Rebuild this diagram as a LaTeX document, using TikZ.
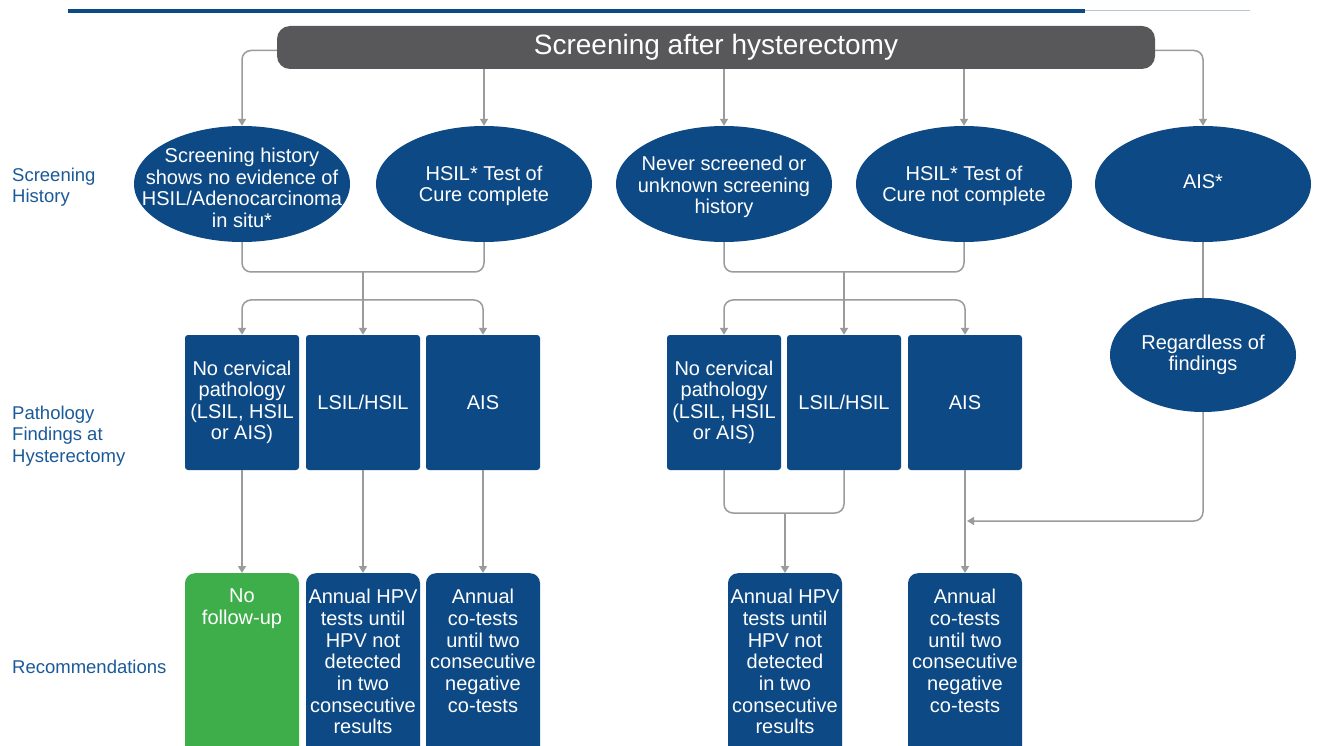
\documentclass[tikz,border=0pt]{standalone}
\usepackage{fontspec}
\setmainfont{Liberation Sans}
\usetikzlibrary{shapes.geometric,arrows.meta}
\definecolor{navy}{HTML}{0D4984}
\definecolor{leaf}{HTML}{3EAE4A}
\definecolor{bargray}{HTML}{58585A}
\definecolor{lblue}{HTML}{1B5A98}
\definecolor{lgray}{HTML}{9B9B9B}
\definecolor{rulegray}{HTML}{B8C4D0}
\begin{document}
\begin{tikzpicture}[x=1pt,y=-1pt,
  ellA/.style={ellipse,fill=navy,minimum width=216pt,minimum height=116pt,inner sep=0pt},
  etext/.style={text=white,align=center,font=\fontsize{20}{21.5}\selectfont,inner sep=0pt},
  pbox/.style={fill=navy,rounded corners=3pt,minimum width=114pt,minimum height=135pt,inner sep=0pt,text=white,align=center,font=\fontsize{20}{21.5}\selectfont},
  rbox/.style={fill=navy,rounded corners=10pt,minimum width=114pt,minimum height=230pt,inner sep=0pt,anchor=north},
  rtext/.style={text=white,align=center,font=\fontsize{20}{21.7}\selectfont,inner sep=0pt,anchor=north},
  lbl/.style={text=lblue,align=left,anchor=west,font=\fontsize{18.5}{21.5}\selectfont,inner sep=0pt},
  conn/.style={draw=lgray,line width=1.5pt,rounded corners=9pt},
  arr/.style={conn,-{Triangle[width=8pt,length=7pt]}}]
\clip (0,0) rectangle (1318,746);
\fill[white] (0,0) rectangle (1318,746);
% top rule
\draw[navy,line width=4pt] (68,11) -- (1085,11);
\draw[rulegray,line width=1pt] (1085,11) -- (1250,11);
% title
\node[fill=bargray,rounded corners=13pt,minimum width=878pt,minimum height=43pt,inner sep=0pt,text=white,font=\fontsize{28}{32}\selectfont] (title) at (716,47.5) {Screening after hysterectomy};
% row labels
\node[lbl] (l1) at (12,187) {Screening\\History};
\node[lbl] (l2) at (12,436) {Pathology\\Findings at\\Hysterectomy};
\node[lbl] (l3) at (12,667) {Recommendations};
% ellipses
\node[ellA] (e1) at (242,184) {};
\node[ellA] (e2) at (484,184) {};
\node[ellA] (e3) at (724,184) {};
\node[ellA] (e4) at (964,184) {};
\node[ellA] (e5) at (1203,184) {};
\node[ellA,minimum width=186pt,minimum height=114pt] (e6) at (1203,355) {};
\node[etext] (e1t) at (242,188) {Screening history\\shows no evidence of\\HSIL/Adenocarcinoma\\in situ*};
\node[etext] (e2t) at (484,186) {HSIL* Test of\\Cure complete};
\node[etext] (e3t) at (724,187) {Never screened or\\unknown screening\\history};
\node[etext] (e4t) at (964,186) {HSIL* Test of\\Cure not complete};
\node[etext] (e5t) at (1203,182) {AIS*};
\node[etext] (e6t) at (1203,355) {Regardless of\\findings};
% pathology boxes
\node[pbox] (b1) at (242,402.5) {No cervical\\pathology\\(LSIL, HSIL\\or AIS)};
\node[pbox] (b2) at (363,402.5) {LSIL/HSIL};
\node[pbox] (b3) at (483,402.5) {AIS};
\node[pbox] (b4) at (724,402.5) {No cervical\\pathology\\(LSIL, HSIL\\or AIS)};
\node[pbox] (b5) at (844,402.5) {LSIL/HSIL};
\node[pbox] (b6) at (965,402.5) {AIS};
% recommendation boxes
\node[rbox,fill=leaf] (r1) at (242,573) {};
\node[rbox] (r2) at (363,573) {};
\node[rbox] (r3) at (483,573) {};
\node[rbox] (r4) at (785,573) {};
\node[rbox] (r5) at (965,573) {};
\node[rtext] (t1) at ([yshift=-16pt]r1.north) {No\\follow-up};
\node[rtext] (t2) at ([yshift=-16pt]r2.north) {Annual HPV\\tests until\\HPV not\\detected\\in two\\consecutive\\results};
\node[rtext] (t3) at ([yshift=-16pt]r3.north) {Annual\\co-tests\\until two\\consecutive\\negative\\co-tests};
\node[rtext] (t4) at ([yshift=-16pt]r4.north) {Annual HPV\\tests until\\HPV not\\detected\\in two\\consecutive\\results};
\node[rtext] (t5) at ([yshift=-16pt]r5.north) {Annual\\co-tests\\until two\\consecutive\\negative\\co-tests};
% title connectors
\draw[arr] ([yshift=-3pt]title.west) -| (e1.north);
\draw[arr] (title.south -| e2.north) -- (e2.north);
\draw[arr] (title.south -| e3.north) -- (e3.north);
\draw[arr] (title.south -| e4.north) -- (e4.north);
\draw[arr] ([yshift=-3pt]title.east) -| (e5.north);
% group 1
\coordinate (m1) at (363,272);
\coordinate (s1) at (363,300);
\draw[conn] (e1.south) |- (m1) -| (e2.south);
\draw[conn] (m1) -- (s1);
\draw[arr] (s1) -| (b1.north);
\draw[arr] (s1) -| (b3.north);
\draw[arr] (s1) -- (b2.north);
% group 2
\coordinate (m2) at (844,272);
\coordinate (s2) at (844,300);
\draw[conn] (e3.south) |- (m2) -| (e4.south);
\draw[conn] (m2) -- (s2);
\draw[arr] (s2) -| (b4.north);
\draw[arr] (s2) -| (b6.north);
\draw[arr] (s2) -- (b5.north);
% pathology to recommendations
\draw[arr] (b1.south) -- (r1.north);
\draw[arr] (b2.south) -- (r2.north);
\draw[arr] (b3.south) -- (r3.north);
\coordinate (m3) at (785,513);
\draw[conn] (b4.south) |- (m3) -| (b5.south);
\draw[arr] (m3) -- (r4.north);
\draw[arr] (b6.south) -- (r5.north);
% AIS branch
\draw[conn] (e5.south) -- (e6.north);
\coordinate (j) at (967,521);
\draw[arr] (e6.south) |- (j);
\end{tikzpicture}
\end{document}
